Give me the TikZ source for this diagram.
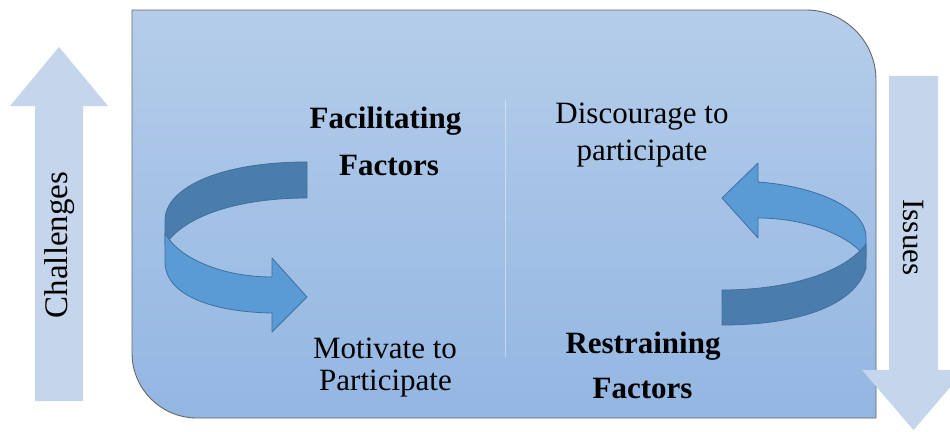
\documentclass[tikz,border=0pt]{standalone}
\usepackage{fontspec}
\setmainfont{Liberation Serif}
\definecolor{boxtop}{RGB}{181,205,234}
\definecolor{boxbot}{RGB}{147,182,226}
\definecolor{sidearrow}{RGB}{197,214,236}
\definecolor{darkband}{RGB}{74,125,172}
\definecolor{lightband}{RGB}{91,155,213}
\definecolor{bandline}{RGB}{62,111,158}
\tikzset{
  lbl/.style={font=\fontsize{31}{36}\selectfont, inner sep=0pt, anchor=base},
  blbl/.style={lbl, font=\fontsize{31}{36}\selectfont\bfseries},
  side/.style={fill=sidearrow, draw=none},
  back/.style={fill=darkband, draw=bandline, line width=0.8pt, line join=round},
  front/.style={fill=lightband, draw=bandline, line width=0.8pt, line join=round},
}
\begin{document}
\begin{tikzpicture}[x=1pt,y=-1pt]
\useasboundingbox (0,0) rectangle (950,431);
% main box
\draw[top color=boxtop, bottom color=boxbot, draw=gray!80!black, line width=0.9pt]
  (132,10) -- (806,10) .. controls (844.7,10) and (876,41.3) .. (876,80)
  -- (876,418) -- (197,418) .. controls (161.1,418) and (132,388.9) .. (132,353) -- cycle;
% divider
\draw[white, opacity=0.4, line width=1pt] (505,100) -- (505,357);
% side arrows
\draw[side] (35,401) -- (35,106) -- (10,106) -- (59,47) -- (108,106) -- (83,106) -- (83,401) -- cycle;
\draw[side] (889,76) -- (938,76) -- (938,370) -- (965,370) -- (913.5,430) -- (862,370) -- (889,370) -- cycle;
\node[rotate=90, font=\fontsize{33}{36}\selectfont, inner sep=0pt] (chal) at (60,245) {Challenges};
\node[rotate=-90, font=\fontsize{31}{36}\selectfont, inner sep=0pt] (iss) at (913,237.5) {Issues};
% left circular arrow
\draw[back] (307,162) .. controls (215,162) and (165,190) .. (165,220)
  -- (165,245) .. controls (185,215) and (240,198) .. (307,198) -- cycle;
\draw[front] (165,233) .. controls (178,258) and (222,277) .. (272,277)
  -- (272,258) -- (307,297) -- (272,332) -- (272,313)
  .. controls (212,312) and (165,295) .. (165,262) -- cycle;
% right circular arrow
\draw[front] (758,182) .. controls (815,186) and (866,208) .. (866,237)
  -- (866,258) .. controls (850,235) and (805,218) .. (758,218)
  -- (758,238) -- (722,198) -- (758,163) -- cycle;
\draw[back] (722,290) .. controls (790,290) and (845,272) .. (866,244)
  -- (866,268) .. controls (855,305) and (800,325) .. (722,325) -- cycle;
% texts
\node[blbl] (fac1) at (385.5,128) {Facilitating};
\node[blbl] (fac2) at (389,175) {Factors};
\node[lbl] (dis1) at (642,123) {Discourage to};
\node[lbl] (dis2) at (642,160) {participate};
\node[lbl] (mot1) at (385,358) {Motivate to};
\node[lbl] (mot2) at (385.5,390) {Participate};
\node[blbl] (res1) at (643,353) {Restraining};
\node[blbl] (res2) at (642.5,398) {Factors};
\end{tikzpicture}
\end{document}
